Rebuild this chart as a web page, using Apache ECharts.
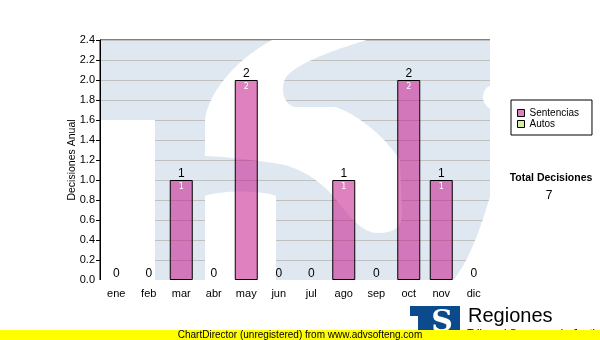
<!DOCTYPE html>
<html><head><meta charset="utf-8">
<script src="https://cdn.jsdelivr.net/npm/echarts@6/dist/echarts.min.js"></script>
<style>html,body{margin:0;padding:0;background:#fff}#c{width:600px;height:340px}</style>
</head><body><div id="c"></div>
<script>
const months = ['ene','feb','mar','abr','may','jun','jul','ago','sep','oct','nov','dic'];
const sentencias = [0,0,1,0,2,0,0,1,0,2,1,0];
const autos = [0,0,0,0,0,0,0,0,0,0,0,0];
const seriesNames = ['Sentencias','Autos'];
const yAxisTitle = 'Decisiones Anual';
const totalTitle = 'Total Decisiones';
const totalValue = 7;
const footerText = 'ChartDirector (unregistered) from www.advsofteng.com';
const logoTitle = 'Regiones';
const logoSubtitle = 'Tribunal Supremo de Justicia';

const totals = sentencias.map((v,i)=>v+autos[i]);
const BLUE = '#dfe8f1';

const wmPaths = {
  wmTop:'M272 40 L367 40 C340 48 305 60 290 73 C280 80 280 102 294 107 L335 107 C352 112 382 132 400 160 L402 215 C402 228 392 233 378 233 C362 233 348 215 335 198 C320 180 300 168 280 164 C255 160 230 157 205 156 L205 120 C208 95 232 62 272 40 Z',
  wmTerm:'M205 282 L205 196 C220 190 262 190 276 196 L276 282 Z',
  wmBr:'M492 190 C480 230 470 260 452 282 L492 282 Z'
};
Object.keys(wmPaths).forEach(k=>{
  echarts.graphic.registerShape(k, echarts.graphic.extendPath(wmPaths[k], {}));
});

const chart = echarts.init(document.getElementById('c'));

const watermark = {
  type:'group', z:-5, silent:true,
  children:[
    {type:'rect', shape:{x:100,y:40,width:390,height:240}, style:{fill:BLUE}, z2:0},
    {type:'rect', shape:{x:100,y:120,width:55,height:160}, style:{fill:'#fff'}, z2:1},
    {type:'wmTop', style:{fill:'#fff'}, z2:1},
    {type:'wmTerm', style:{fill:'#fff'}, z2:1},
    {type:'circle', shape:{cx:496,cy:97,r:13}, style:{fill:'#fff'}, z2:1},
    {type:'wmBr', style:{fill:'#fff'}, z2:1},
    {type:'rect', shape:{x:490,y:30,width:30,height:260}, style:{fill:'#fff'}, z2:5},
    {type:'rect', shape:{x:90,y:280,width:420,height:10}, style:{fill:'#fff'}, z2:5}
  ]
};

const logo = {
  type:'group', z:5, silent:true,
  children:[
    {type:'rect', shape:{x:410,y:306,width:50,height:34}, style:{fill:'#0b4a8c'}},
    {type:'rect', shape:{x:410,y:316,width:8,height:24}, style:{fill:'#fff'}},
    {type:'text', style:{x:442,y:323,text:'S',fill:'#fff',font:'bold 30px "DejaVu Serif"',textAlign:'center',textVerticalAlign:'middle'}},
    {type:'text', style:{x:468,y:316,text:logoTitle,fill:'#000',font:'20px "Liberation Sans"',textVerticalAlign:'middle'}},
    {type:'text', style:{x:467,y:334,text:logoSubtitle,fill:'#000',font:'11px "Liberation Sans"',textVerticalAlign:'middle'}},
    {type:'rect', shape:{x:0,y:330,width:600,height:10}, style:{fill:'#ffff00'}, z2:10},
    {type:'text', style:{x:300,y:335,text:footerText,fill:'#000',font:'10px "Liberation Sans"',textAlign:'center',textVerticalAlign:'middle'}, z2:11}
  ]
};

const sentData = sentencias.map(v => v > 0 ? v : {value:v, itemStyle:{borderWidth:0}});

const option = {
  animation:false,
  backgroundColor:'#fff',
  textStyle:{fontFamily:'Liberation Sans'},
  grid:{left:100,right:110,top:40,bottom:60,show:true,borderColor:'#000',borderWidth:1,backgroundColor:'transparent'},
  legend:{
    left:511, top:100, orient:'vertical',
    backgroundColor:'#fff', borderColor:'#000', borderWidth:1,
    padding:[8,13,6,6], itemWidth:7, itemHeight:7, itemGap:1, icon:'rect',
    textStyle:{fontSize:10, lineHeight:10, fontFamily:'Liberation Sans', color:'#000'},
    data:[
      {name:seriesNames[0], itemStyle:{borderColor:'#000',borderWidth:1}},
      {name:seriesNames[1], itemStyle:{borderColor:'#000',borderWidth:1}}
    ]
  },
  xAxis:{
    type:'category', data:months,
    axisLine:{lineStyle:{color:'#000',width:1}},
    axisTick:{alignWithLabel:true,length:4,lineStyle:{color:'#000'}},
    axisLabel:{color:'#000',fontSize:11,margin:8,fontFamily:'Liberation Sans'}
  },
  yAxis:{
    type:'value', min:0, max:2.4, interval:0.2,
    name:yAxisTitle, nameLocation:'middle', nameGap:22, nameRotate:90, nameMoveOverlap:false,
    nameTextStyle:{fontSize:10.5,color:'#000',fontFamily:'Liberation Sans'},
    axisLine:{show:true,lineStyle:{color:'#000'}},
    axisTick:{show:true,length:4,lineStyle:{color:'#000'}},
    axisLabel:{color:'#000',fontSize:11,margin:5,formatter:v=>v.toFixed(1),fontFamily:'Liberation Sans'},
    splitLine:{lineStyle:{color:'#c0c0c0',width:1}}
  },
  series:[
    {name:seriesNames[0], type:'bar', stack:'t', data:sentData, barWidth:23, z:3,
     itemStyle:{color:'rgba(200,30,140,0.56)', borderColor:'#000', borderWidth:1},
     label:{show:true, position:'insideTop', distance:3, color:'#fff', fontSize:8, fontFamily:'DejaVu Sans',
            formatter:p=>p.value>0?String(p.value):''}},
    {name:seriesNames[1], type:'bar', stack:'t', data:autos, barWidth:23, z:3,
     itemStyle:{color:'#d6eca0', borderColor:'#000', borderWidth:0},
     label:{show:true, position:'top', distance:0, color:'#000', fontSize:12, fontFamily:'Liberation Sans',
            formatter:p=>String(totals[p.dataIndex])}}
  ],
  graphic:[
    watermark,
    {type:'text', z:5, style:{x:551,y:178,text:totalTitle,fill:'#000',font:'bold 10.5px "Liberation Sans"',textAlign:'center',textVerticalAlign:'middle'}},
    {type:'text', z:5, style:{x:549,y:196,text:String(totalValue),fill:'#000',font:'12px "Liberation Sans"',textAlign:'center',textVerticalAlign:'middle'}},
    logo
  ]
};
chart.setOption(option);
</script></body></html>
